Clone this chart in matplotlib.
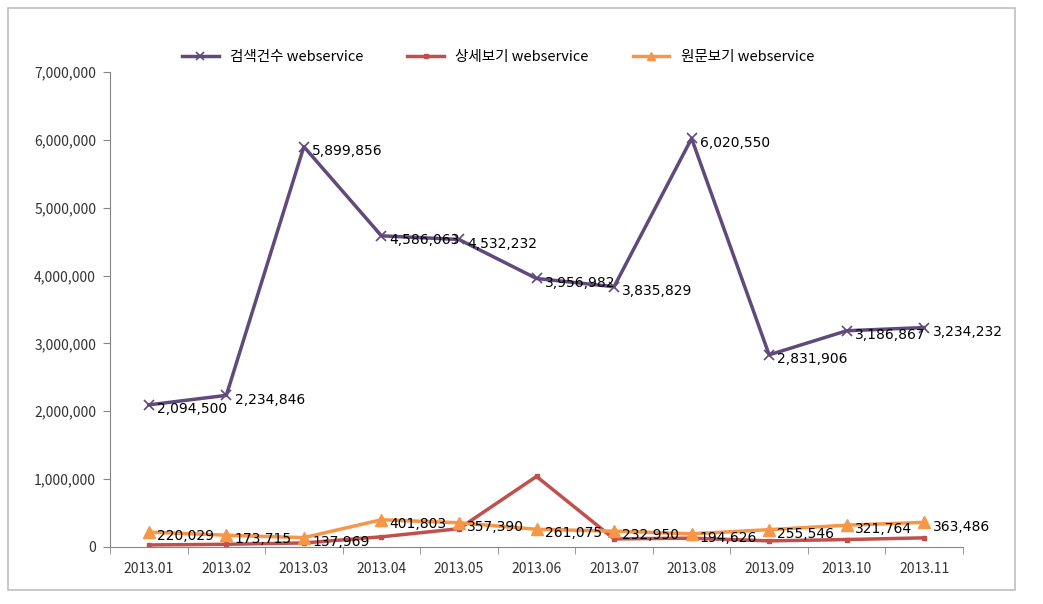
import matplotlib.pyplot as plt
from matplotlib.patches import Rectangle
from matplotlib.ticker import FuncFormatter, FixedLocator

plt.rcParams['font.family'] = ['Noto Sans CJK KR', 'DejaVu Sans']

months = ['2013.01', '2013.02', '2013.03', '2013.04', '2013.05', '2013.06',
          '2013.07', '2013.08', '2013.09', '2013.10', '2013.11']
search = [2094500, 2234846, 5899856, 4586063, 4532232, 3956982,
          3835829, 6020550, 2831906, 3186867, 3234232]
detail = [30000, 40000, 60000, 150000, 270000, 1040000,
          120000, 130000, 90000, 110000, 135000]
original = [220029, 173715, 137969, 401803, 357390, 261075,
            232950, 194626, 255546, 321764, 363486]

fig = plt.figure(figsize=(10.43, 6.04), dpi=100)
fig.patches.append(Rectangle((8 / 1043, 14 / 604), 1007 / 1043, 582 / 604,
                             transform=fig.transFigure, fill=False,
                             edgecolor='#bfbfbf', linewidth=1.2))
ax = fig.add_axes([110 / 1043, 57 / 604, 853 / 1043, 475 / 604])

x = list(range(len(months)))
ax.plot(x, search, color='#604A7B', linewidth=2.5, marker='x', markersize=7,
        markeredgewidth=1.2, label='검색건수 webservice')
ax.plot(x, detail, color='#C0504D', linewidth=2.5, marker='s', markersize=3,
        label='상세보기 webservice')
ax.plot(x, original, color='#F79646', linewidth=2.5, marker='^', markersize=8,
        label='원문보기 webservice')

for i, v in enumerate(search):
    ax.annotate(f'{v:,}', (i, v), xytext=(6, -3), textcoords='offset points',
                ha='left', va='center', fontsize=10, family='DejaVu Sans')
for i, v in enumerate(original):
    ax.annotate(f'{v:,}', (i, v), xytext=(6, -3), textcoords='offset points',
                ha='left', va='center', fontsize=10, family='DejaVu Sans')

ax.set_xlim(-0.5, len(months) - 0.5)
ax.set_ylim(0, 7000000)
ax.set_yticks(range(0, 7000001, 1000000))
ax.yaxis.set_major_formatter(FuncFormatter(lambda v, p: f'{int(v):,}'))
ax.set_xticks(x)
ax.set_xticklabels(months)
ax.xaxis.set_minor_locator(FixedLocator([i - 0.5 for i in range(len(months) + 1)]))
ax.tick_params(axis='x', which='major', length=0, pad=11)
ax.tick_params(axis='x', which='minor', length=5, direction='out', color='#868686')
ax.tick_params(axis='y', length=5, direction='out', color='#868686', pad=5)
ax.tick_params(labelsize=10, labelcolor='#333333')

for s in ['top', 'right']:
    ax.spines[s].set_visible(False)
for s in ['left', 'bottom']:
    ax.spines[s].set_color('#868686')

ax.legend(loc='lower center', bbox_to_anchor=(0.455, 0.99), ncol=3, frameon=False,
          fontsize=10.5, handlelength=2.5, columnspacing=3.0, markerscale=0.8)

fig.savefig('out.png', dpi=100)
